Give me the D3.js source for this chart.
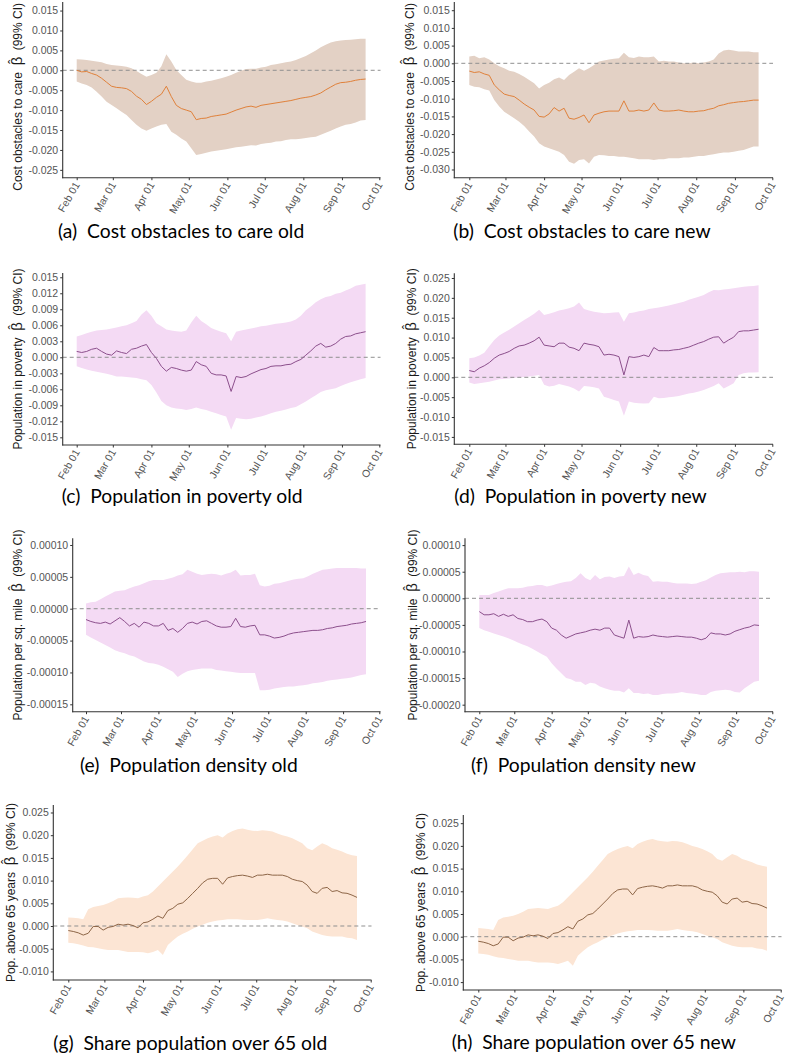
<!DOCTYPE html>
<html>
<head>
<meta charset="utf-8">
<script src="https://cdnjs.cloudflare.com/ajax/libs/d3/7.8.5/d3.min.js"></script>
<style>
  body { margin: 0; background: #fff; }
  svg { display: block; }
  text { white-space: pre; }
</style>
</head>
<body>
<div class="figure"></div>
<script>
// Page size.
var w = 787,
    h = 1054;

// Dates of the plotted estimates (every 4 days).
var dateStrings = [
  "2020-02-01","2020-02-05","2020-02-09","2020-02-13","2020-02-17","2020-02-21","2020-02-25","2020-02-29",
  "2020-03-04","2020-03-08","2020-03-12","2020-03-16","2020-03-20","2020-03-24","2020-03-28",
  "2020-04-01","2020-04-05","2020-04-09","2020-04-13","2020-04-17","2020-04-21","2020-04-25","2020-04-29",
  "2020-05-03","2020-05-07","2020-05-11","2020-05-15","2020-05-19","2020-05-23","2020-05-27","2020-05-31",
  "2020-06-04","2020-06-08","2020-06-12","2020-06-16","2020-06-20","2020-06-24","2020-06-28",
  "2020-07-02","2020-07-06","2020-07-10","2020-07-14","2020-07-18","2020-07-22","2020-07-26","2020-07-30",
  "2020-08-03","2020-08-07","2020-08-11","2020-08-15","2020-08-19","2020-08-23","2020-08-27","2020-08-31",
  "2020-09-04","2020-09-08","2020-09-12","2020-09-16","2020-09-20"
];

var monthTicks = ["2020-02-01","2020-03-01","2020-04-01","2020-05-01","2020-06-01",
                  "2020-07-01","2020-08-01","2020-09-01","2020-10-01"];

// (a) Cost obstacles to care, old.
var costOldEst = [0.0000,-0.0004,-0.0003,-0.0008,-0.0012,-0.0020,-0.0030,-0.0040,-0.0043,-0.0044,
  -0.0046,-0.0053,-0.0065,-0.0073,-0.0086,-0.0078,-0.0068,-0.0060,-0.0040,-0.0066,
  -0.0088,-0.0096,-0.0100,-0.0104,-0.0124,-0.0121,-0.0120,-0.0116,-0.0114,-0.0112,
  -0.0110,-0.0105,-0.0100,-0.0096,-0.0092,-0.0090,-0.0093,-0.0088,-0.0086,-0.0084,
  -0.0082,-0.0080,-0.0078,-0.0076,-0.0073,-0.0070,-0.0068,-0.0066,-0.0062,-0.0057,
  -0.0049,-0.0042,-0.0035,-0.0031,-0.0030,-0.0028,-0.0025,-0.0023,-0.0022];
var costOldHi = [0.0028,0.0027,0.0026,0.0024,0.0022,0.0020,0.0016,0.0013,0.0012,0.0011,
  0.0009,0.0005,-0.0002,-0.0009,-0.0016,-0.0012,-0.0006,0.0010,0.0040,0.0022,
  0.0001,-0.0012,-0.0024,-0.0028,-0.0031,-0.0031,-0.0028,-0.0026,-0.0023,-0.0020,
  -0.0016,-0.0012,-0.0006,-0.0001,0.0003,0.0004,0.0004,0.0007,0.0009,0.0013,
  0.0015,0.0018,0.0020,0.0022,0.0026,0.0031,0.0036,0.0043,0.0050,0.0058,
  0.0064,0.0070,0.0073,0.0075,0.0076,0.0077,0.0078,0.0079,0.0079];
var costOldLo = [-0.0028,-0.0033,-0.0037,-0.0043,-0.0054,-0.0066,-0.0079,-0.0087,-0.0095,-0.0104,
  -0.0112,-0.0125,-0.0137,-0.0146,-0.0152,-0.0146,-0.0141,-0.0137,-0.0135,-0.0154,
  -0.0162,-0.0171,-0.0179,-0.0196,-0.0213,-0.0210,-0.0207,-0.0204,-0.0202,-0.0200,
  -0.0198,-0.0196,-0.0193,-0.0192,-0.0190,-0.0188,-0.0189,-0.0185,-0.0183,-0.0182,
  -0.0179,-0.0178,-0.0175,-0.0173,-0.0173,-0.0172,-0.0170,-0.0168,-0.0167,-0.0162,
  -0.0157,-0.0152,-0.0146,-0.0141,-0.0137,-0.0135,-0.0131,-0.0126,-0.0125];

// (b) Cost obstacles to care, new.
var costNewEst = [-0.0022,-0.0026,-0.0024,-0.0030,-0.0034,-0.0061,-0.0075,-0.0087,-0.0091,-0.0094,
  -0.0104,-0.0115,-0.0124,-0.0132,-0.0150,-0.0152,-0.0143,-0.0125,-0.0135,-0.0127,
  -0.0155,-0.0158,-0.0153,-0.0146,-0.0168,-0.0146,-0.0141,-0.0137,-0.0135,-0.0135,
  -0.0135,-0.0106,-0.0135,-0.0135,-0.0132,-0.0135,-0.0132,-0.0112,-0.0132,-0.0135,
  -0.0135,-0.0134,-0.0132,-0.0135,-0.0137,-0.0137,-0.0135,-0.0134,-0.0130,-0.0127,
  -0.0120,-0.0117,-0.0113,-0.0111,-0.0109,-0.0108,-0.0106,-0.0104,-0.0104];
var costNewHi = [0.0019,0.0021,0.0014,0.0017,0.0011,0.0000,-0.0008,-0.0014,-0.0021,-0.0024,
  -0.0030,-0.0038,-0.0047,-0.0056,-0.0071,-0.0061,-0.0055,-0.0045,-0.0040,-0.0047,
  -0.0033,-0.0024,-0.0014,-0.0021,-0.0014,-0.0005,0.0005,0.0008,0.0011,0.0013,
  0.0014,0.0030,0.0017,0.0015,0.0019,0.0017,0.0017,0.0019,0.0005,0.0007,
  0.0005,0.0005,0.0002,0.0000,0.0000,0.0002,0.0000,0.0002,0.0005,0.0011,
  0.0028,0.0036,0.0038,0.0036,0.0033,0.0033,0.0033,0.0031,0.0031];
var costNewLo = [-0.0061,-0.0066,-0.0068,-0.0073,-0.0077,-0.0104,-0.0122,-0.0137,-0.0146,-0.0155,
  -0.0165,-0.0177,-0.0193,-0.0207,-0.0226,-0.0235,-0.0240,-0.0245,-0.0250,-0.0259,
  -0.0278,-0.0284,-0.0273,-0.0271,-0.0283,-0.0264,-0.0259,-0.0260,-0.0262,-0.0262,
  -0.0264,-0.0264,-0.0266,-0.0268,-0.0271,-0.0271,-0.0271,-0.0273,-0.0271,-0.0271,
  -0.0268,-0.0268,-0.0268,-0.0266,-0.0266,-0.0264,-0.0262,-0.0262,-0.0259,-0.0257,
  -0.0254,-0.0252,-0.0252,-0.0250,-0.0247,-0.0245,-0.0240,-0.0235,-0.0235];

// (c) Population in poverty, old.
var povOldEst = [0.0011,0.0009,0.0011,0.0015,0.0017,0.0011,0.0006,0.0004,0.0012,0.0009,
  0.0007,0.0015,0.0017,0.0021,0.0024,0.0009,-0.0002,-0.0017,-0.0026,-0.0019,
  -0.0021,-0.0024,-0.0026,-0.0024,-0.0008,-0.0014,-0.0017,-0.0030,-0.0033,-0.0033,
  -0.0035,-0.0064,-0.0036,-0.0038,-0.0036,-0.0031,-0.0027,-0.0023,-0.0021,-0.0017,
  -0.0016,-0.0016,-0.0014,-0.0013,-0.0008,-0.0004,0.0004,0.0012,0.0021,0.0026,
  0.0019,0.0021,0.0026,0.0034,0.0039,0.0040,0.0044,0.0046,0.0048];
var povOldHi = [0.0039,0.0042,0.0045,0.0048,0.0050,0.0051,0.0052,0.0054,0.0056,0.0058,
  0.0060,0.0064,0.0068,0.0080,0.0088,0.0078,0.0064,0.0058,0.0052,0.0050,
  0.0049,0.0048,0.0050,0.0065,0.0078,0.0068,0.0062,0.0055,0.0051,0.0048,
  0.0045,0.0030,0.0048,0.0050,0.0052,0.0054,0.0056,0.0058,0.0059,0.0061,
  0.0063,0.0064,0.0065,0.0067,0.0071,0.0078,0.0088,0.0095,0.0103,0.0109,
  0.0113,0.0115,0.0119,0.0121,0.0125,0.0129,0.0134,0.0136,0.0138];
var povOldLo = [-0.0017,-0.0020,-0.0023,-0.0025,-0.0027,-0.0029,-0.0031,-0.0033,-0.0036,-0.0036,
  -0.0037,-0.0038,-0.0039,-0.0041,-0.0043,-0.0052,-0.0066,-0.0082,-0.0090,-0.0094,
  -0.0096,-0.0097,-0.0099,-0.0097,-0.0094,-0.0097,-0.0099,-0.0102,-0.0105,-0.0108,
  -0.0111,-0.0136,-0.0114,-0.0115,-0.0116,-0.0115,-0.0113,-0.0111,-0.0108,-0.0105,
  -0.0102,-0.0100,-0.0098,-0.0095,-0.0093,-0.0088,-0.0083,-0.0077,-0.0071,-0.0065,
  -0.0062,-0.0060,-0.0058,-0.0054,-0.0050,-0.0047,-0.0044,-0.0041,-0.0039];

// (d) Population in poverty, new.
var povNewEst = [0.0017,0.0014,0.0023,0.0029,0.0037,0.0048,0.0056,0.0060,0.0065,0.0073,
  0.0079,0.0081,0.0086,0.0092,0.0101,0.0081,0.0079,0.0077,0.0086,0.0086,
  0.0076,0.0073,0.0067,0.0086,0.0083,0.0081,0.0077,0.0056,0.0058,0.0056,
  0.0052,0.0006,0.0052,0.0050,0.0052,0.0056,0.0052,0.0075,0.0067,0.0067,
  0.0067,0.0069,0.0070,0.0073,0.0076,0.0081,0.0086,0.0090,0.0096,0.0101,
  0.0102,0.0086,0.0094,0.0101,0.0115,0.0117,0.0117,0.0119,0.0121];
var povNewHi = [0.0048,0.0050,0.0055,0.0062,0.0078,0.0094,0.0105,0.0113,0.0120,0.0128,
  0.0136,0.0144,0.0152,0.0160,0.0170,0.0157,0.0160,0.0164,0.0168,0.0171,
  0.0174,0.0178,0.0188,0.0172,0.0168,0.0165,0.0163,0.0161,0.0162,0.0163,
  0.0164,0.0140,0.0161,0.0163,0.0166,0.0168,0.0172,0.0174,0.0176,0.0178,
  0.0181,0.0184,0.0187,0.0190,0.0195,0.0199,0.0203,0.0207,0.0214,0.0220,
  0.0219,0.0221,0.0222,0.0224,0.0226,0.0228,0.0229,0.0230,0.0232];
var povNewLo = [-0.0013,-0.0017,-0.0015,-0.0013,-0.0011,-0.0008,-0.0005,-0.0004,-0.0003,-0.0002,
  0.0000,0.0001,0.0002,0.0004,0.0006,-0.0019,-0.0023,-0.0021,-0.0017,-0.0020,
  -0.0023,-0.0028,-0.0036,-0.0022,-0.0023,-0.0025,-0.0028,-0.0049,-0.0053,-0.0057,
  -0.0061,-0.0097,-0.0061,-0.0064,-0.0065,-0.0066,-0.0065,-0.0049,-0.0053,-0.0052,
  -0.0050,-0.0049,-0.0047,-0.0044,-0.0041,-0.0039,-0.0036,-0.0032,-0.0027,-0.0022,
  -0.0015,-0.0028,-0.0022,-0.0015,0.0006,0.0010,0.0012,0.0012,0.0013];

// (e) Population density, old.
var densOldEst = [-1.7e-5,-2.0e-5,-2.2e-5,-2.3e-5,-2.1e-5,-2.4e-5,-1.9e-5,-1.4e-5,-2.0e-5,-2.7e-5,
  -2.3e-5,-2.9e-5,-2.1e-5,-2.3e-5,-2.7e-5,-2.7e-5,-2.3e-5,-3.4e-5,-3.1e-5,-3.7e-5,
  -3.1e-5,-2.3e-5,-2.1e-5,-2.4e-5,-2.0e-5,-1.9e-5,-2.3e-5,-2.7e-5,-2.9e-5,-2.9e-5,
  -2.8e-5,-1.5e-5,-2.8e-5,-2.9e-5,-2.7e-5,-2.6e-5,-4.1e-5,-4.1e-5,-4.3e-5,-4.6e-5,
  -4.5e-5,-4.3e-5,-4.0e-5,-3.8e-5,-3.7e-5,-3.6e-5,-3.5e-5,-3.4e-5,-3.4e-5,-3.3e-5,
  -3.1e-5,-3.0e-5,-2.8e-5,-2.7e-5,-2.6e-5,-2.4e-5,-2.3e-5,-2.2e-5,-2.0e-5];
var densOldHi = [0.8e-5,1.0e-5,1.1e-5,1.5e-5,1.9e-5,2.3e-5,2.7e-5,2.8e-5,2.9e-5,3.2e-5,
  3.5e-5,3.7e-5,4.0e-5,4.3e-5,4.5e-5,4.5e-5,4.5e-5,4.7e-5,4.9e-5,5.2e-5,
  5.4e-5,6.1e-5,5.8e-5,5.5e-5,5.3e-5,5.4e-5,5.5e-5,5.4e-5,5.2e-5,5.5e-5,
  5.7e-5,6.1e-5,5.2e-5,5.3e-5,5.3e-5,5.5e-5,3.7e-5,3.5e-5,3.6e-5,3.9e-5,
  4.0e-5,4.2e-5,4.4e-5,4.6e-5,4.7e-5,4.8e-5,5.1e-5,5.5e-5,5.8e-5,6.1e-5,
  6.2e-5,6.3e-5,6.4e-5,6.4e-5,6.4e-5,6.4e-5,6.4e-5,6.3e-5,6.3e-5];
var densOldLo = [-4.1e-5,-4.5e-5,-4.9e-5,-5.3e-5,-5.7e-5,-6.1e-5,-6.5e-5,-6.8e-5,-7.0e-5,-7.3e-5,
  -7.5e-5,-7.9e-5,-8.3e-5,-8.5e-5,-8.6e-5,-8.8e-5,-9.1e-5,-9.5e-5,-9.9e-5,-10.7e-5,
  -10.2e-5,-9.8e-5,-9.6e-5,-9.5e-5,-9.4e-5,-9.4e-5,-9.4e-5,-9.6e-5,-9.7e-5,-9.8e-5,
  -9.9e-5,-10.0e-5,-10.1e-5,-10.1e-5,-10.1e-5,-10.1e-5,-12.8e-5,-12.8e-5,-12.7e-5,-12.5e-5,
  -12.4e-5,-12.3e-5,-12.2e-5,-12.2e-5,-12.1e-5,-12.0e-5,-11.9e-5,-11.7e-5,-11.6e-5,-11.5e-5,
  -11.3e-5,-11.2e-5,-11.1e-5,-11.0e-5,-10.9e-5,-10.8e-5,-10.6e-5,-10.4e-5,-10.3e-5];

// (f) Population density, new.
var densNewEst = [-2.5e-5,-3.1e-5,-3.1e-5,-2.9e-5,-3.4e-5,-3.0e-5,-3.4e-5,-3.1e-5,-3.8e-5,-4.0e-5,
  -4.4e-5,-4.4e-5,-4.1e-5,-3.9e-5,-4.4e-5,-5.6e-5,-6.0e-5,-6.9e-5,-7.5e-5,-7.1e-5,
  -6.7e-5,-6.5e-5,-6.3e-5,-6.0e-5,-5.8e-5,-6.0e-5,-5.6e-5,-5.6e-5,-6.9e-5,-7.2e-5,
  -7.5e-5,-4.1e-5,-7.5e-5,-7.2e-5,-7.3e-5,-7.2e-5,-6.9e-5,-7.1e-5,-7.2e-5,-7.3e-5,
  -7.2e-5,-7.1e-5,-7.2e-5,-7.3e-5,-7.3e-5,-7.5e-5,-7.8e-5,-7.5e-5,-6.5e-5,-6.7e-5,
  -6.7e-5,-6.9e-5,-6.7e-5,-6.2e-5,-5.9e-5,-5.6e-5,-5.4e-5,-5.0e-5,-5.1e-5];
var densNewHi = [0.6e-5,0.6e-5,0.6e-5,1.0e-5,1.3e-5,1.6e-5,1.9e-5,1.9e-5,1.9e-5,2.0e-5,
  2.2e-5,2.3e-5,2.5e-5,2.5e-5,2.2e-5,2.4e-5,2.7e-5,2.9e-5,3.1e-5,3.2e-5,
  3.8e-5,4.7e-5,3.8e-5,3.4e-5,4.4e-5,3.6e-5,4.0e-5,4.1e-5,3.8e-5,4.1e-5,
  4.2e-5,6.0e-5,4.4e-5,4.8e-5,4.4e-5,4.2e-5,3.1e-5,3.2e-5,3.1e-5,3.1e-5,
  2.9e-5,2.8e-5,2.8e-5,2.8e-5,2.7e-5,2.8e-5,3.1e-5,3.4e-5,3.9e-5,4.4e-5,
  4.7e-5,4.8e-5,4.9e-5,4.9e-5,5.0e-5,4.9e-5,5.1e-5,5.1e-5,5.0e-5];
var densNewLo = [-5.6e-5,-6.0e-5,-6.3e-5,-6.6e-5,-6.9e-5,-7.2e-5,-7.5e-5,-7.9e-5,-8.3e-5,-8.7e-5,
  -9.0e-5,-9.5e-5,-10.0e-5,-10.5e-5,-11.0e-5,-12.2e-5,-13.2e-5,-14.1e-5,-15.0e-5,-15.2e-5,
  -15.7e-5,-15.7e-5,-16.3e-5,-15.9e-5,-16.0e-5,-16.6e-5,-16.9e-5,-17.2e-5,-17.4e-5,-17.4e-5,
  -17.7e-5,-16.9e-5,-17.8e-5,-17.8e-5,-18.0e-5,-17.9e-5,-18.2e-5,-18.2e-5,-18.0e-5,-17.9e-5,
  -17.9e-5,-17.8e-5,-17.6e-5,-17.8e-5,-17.9e-5,-18.0e-5,-18.2e-5,-18.2e-5,-17.6e-5,-17.4e-5,
  -17.3e-5,-17.2e-5,-17.3e-5,-17.6e-5,-17.7e-5,-16.9e-5,-16.3e-5,-15.7e-5,-15.5e-5];

// (g)/(h) Share population over 65 (both panels show the same curve).
var age65Est = [-0.0010,-0.0012,-0.0015,-0.0020,-0.0016,-0.0001,-0.0001,-0.0009,-0.0003,-0.0001,
  0.0004,0.0002,0.0004,0.0001,-0.0004,0.0007,0.0009,0.0015,0.0022,0.0017,
  0.0034,0.0039,0.0048,0.0051,0.0061,0.0072,0.0083,0.0095,0.0103,0.0105,
  0.0105,0.0092,0.0106,0.0109,0.0111,0.0112,0.0110,0.0107,0.0112,0.0112,
  0.0114,0.0112,0.0112,0.0112,0.0109,0.0103,0.0100,0.0098,0.0090,0.0076,
  0.0072,0.0083,0.0085,0.0076,0.0078,0.0073,0.0072,0.0068,0.0063];
var age65Hi = [0.0019,0.0018,0.0017,0.0015,0.0037,0.0042,0.0044,0.0046,0.0050,0.0055,
  0.0061,0.0062,0.0063,0.0062,0.0061,0.0065,0.0068,0.0076,0.0087,0.0098,
  0.0109,0.0120,0.0131,0.0143,0.0156,0.0169,0.0182,0.0188,0.0193,0.0197,
  0.0200,0.0195,0.0204,0.0209,0.0213,0.0215,0.0212,0.0210,0.0209,0.0211,
  0.0210,0.0208,0.0204,0.0200,0.0197,0.0193,0.0188,0.0182,0.0171,0.0167,
  0.0175,0.0182,0.0178,0.0171,0.0168,0.0164,0.0159,0.0156,0.0154];
var age65Lo = [-0.0037,-0.0038,-0.0040,-0.0043,-0.0046,-0.0047,-0.0049,-0.0051,-0.0053,-0.0053,
  -0.0053,-0.0055,-0.0057,-0.0057,-0.0057,-0.0058,-0.0060,-0.0057,-0.0053,-0.0064,
  -0.0042,-0.0032,-0.0023,-0.0017,-0.0012,-0.0006,-0.0001,0.0003,0.0007,0.0010,
  0.0012,0.0013,0.0015,0.0015,0.0015,0.0014,0.0013,0.0013,0.0013,0.0015,
  0.0017,0.0015,0.0013,0.0012,0.0010,0.0006,0.0002,-0.0001,-0.0005,-0.0012,
  -0.0016,-0.0020,-0.0022,-0.0023,-0.0023,-0.0023,-0.0026,-0.0027,-0.0031];

// Y tick values per panel.
var yTicksCostOld = [-0.025,-0.020,-0.015,-0.010,-0.005,0.000,0.005,0.010,0.015];
var yTicksCostNew = [-0.030,-0.025,-0.020,-0.015,-0.010,-0.005,0.000,0.005,0.010,0.015];
var yTicksPovOld = [-0.015,-0.012,-0.009,-0.006,-0.003,0.000,0.003,0.006,0.009,0.012,0.015];
var yTicksPovNew = [-0.015,-0.010,-0.005,0.000,0.005,0.010,0.015,0.020,0.025];
var yTicksDensOld = [-0.00015,-0.00010,-0.00005,0.00000,0.00005,0.00010];
var yTicksDensNew = [-0.00020,-0.00015,-0.00010,-0.00005,0.00000,0.00005,0.00010];
var yTicksAge = [-0.010,-0.005,0.000,0.005,0.010,0.015,0.020,0.025];

var parseDate = d3.timeParse("%Y-%m-%d");
var dates = dateStrings.map(parseDate);
var monthDates = monthTicks.map(parseDate);

// ggplot style hyphen minus.
var locale = d3.formatLocale({decimal: ".", thousands: ",", grouping: [3], currency: ["", ""], minus: "-"});

var orange = {band: "#e3d1c5", line: "#e0813b"},
    purple = {band: "#f4daf4", line: "#8c4f8c"},
    peach = {band: "#fce5d4", line: "#8d6547"};

var panels = [
  {tag: "(a)", caption: "Cost obstacles to care old", ylab: "Cost obstacles to care",
   est: costOldEst, hi: costOldHi, lo: costOldLo, ticks: yTicksCostOld, fmt: ".3f", col: orange,
   box: {left: 62.7, feb: 76.7, oct: 379.3, right: 380.5, top: 2, bottom: 177.7},
   yDomain: [-0.02697, 0.01715], labelX: 18, labelShift: 7, capX: 58, capY: 238},
  {tag: "(b)", caption: "Cost obstacles to care new", ylab: "Cost obstacles to care",
   est: costNewEst, hi: costNewHi, lo: costNewLo, ticks: yTicksCostNew, fmt: ".3f", col: orange,
   box: {left: 454.3, feb: 469.3, oct: 772.3, right: 773, top: 2, bottom: 177.7},
   yDomain: [-0.03232, 0.01732], labelX: 410, labelShift: 7, capX: 453.3, capY: 238},
  {tag: "(c)", caption: "Population in poverty old", ylab: "Population in poverty",
   est: povOldEst, hi: povOldHi, lo: povOldLo, ticks: yTicksPovOld, fmt: ".3f", col: purple,
   box: {left: 62.7, feb: 76.7, oct: 379.3, right: 380.5, top: 273, bottom: 445},
   yDomain: [-0.01644, 0.0158], labelX: 18, labelShift: 0, capX: 61.7, capY: 503},
  {tag: "(d)", caption: "Population in poverty new", ylab: "Population in poverty",
   est: povNewEst, hi: povNewHi, lo: povNewLo, ticks: yTicksPovNew, fmt: ".3f", col: purple,
   box: {left: 454.3, feb: 469.3, oct: 772.3, right: 773, top: 273.3, bottom: 444.3},
   yDomain: [-0.01686, 0.02618], labelX: 411.7, labelShift: 0, capX: 454.3, capY: 503},
  {tag: "(e)", caption: "Population density old", ylab: "Population per sq. mile",
   est: densOldEst, hi: densOldHi, lo: densOldLo, ticks: yTicksDensOld, fmt: ".5f", col: purple,
   box: {left: 72.7, feb: 86, oct: 379.3, right: 380.5, top: 538.3, bottom: 711.7},
   yDomain: [-0.0001616, 0.0001105], labelX: 18, labelShift: 0, capX: 80, capY: 772},
  {tag: "(f)", caption: "Population density new", ylab: "Population per sq. mile",
   est: densNewEst, hi: densNewHi, lo: densNewLo, ticks: yTicksDensNew, fmt: ".5f", col: purple,
   box: {left: 465, feb: 479.3, oct: 772.3, right: 773, top: 538.3, bottom: 711.7},
   yDomain: [-0.0002132, 0.0001128], labelX: 412.5, labelShift: 0, capX: 471, capY: 772},
  {tag: "(g)", caption: "Share population over 65 old", ylab: "Pop. above 65 years",
   est: age65Est, hi: age65Hi, lo: age65Lo, ticks: yTicksAge, fmt: ".3f", col: peach,
   box: {left: 53.3, feb: 68.3, oct: 370.7, right: 371.5, top: 805, bottom: 980},
   yDomain: [-0.01189, 0.02665], labelX: 11, labelShift: 0, capX: 53.3, capY: 1050},
  {tag: "(h)", caption: "Share population over 65 new", ylab: "Pop. above 65 years",
   est: age65Est, hi: age65Hi, lo: age65Lo, ticks: yTicksAge, fmt: ".3f", col: peach,
   box: {left: 463.3, feb: 478.3, oct: 780.7, right: 781.5, top: 815, bottom: 990},
   yDomain: [-0.01174, 0.0268], labelX: 421, labelShift: 0, capX: 451.7, capY: 1049}
];

var svg = d3.select(".figure").append("svg")
  .attr("width", w)
  .attr("height", h);

panels.forEach(drawPanel);

function drawPanel(p) {
  var b = p.box;

  var xScale = d3.scaleTime()
    .domain([monthDates[0], monthDates[monthDates.length - 1]])
    .range([b.feb, b.oct]);

  var yScale = d3.scaleLinear()
    .domain(p.yDomain)
    .range([b.bottom, b.top]);

  var rows = dates.map(function(d, i) {
    return {date: d, est: p.est[i], hi: p.hi[i], lo: p.lo[i]};
  });

  var g = svg.append("g");

  // Confidence band.
  g.append("path")
    .datum(rows)
    .attr("fill", p.col.band)
    .attr("d", d3.area()
      .x(function(d) { return xScale(d.date); })
      .y0(function(d) { return yScale(d.lo); })
      .y1(function(d) { return yScale(d.hi); }));

  // Zero reference line.
  g.append("line")
    .attr("x1", b.left)
    .attr("x2", b.right)
    .attr("y1", yScale(0))
    .attr("y2", yScale(0))
    .attr("stroke", "#8f8f8f")
    .attr("stroke-width", 1)
    .attr("stroke-dasharray", "4,3");

  // Point estimate.
  g.append("path")
    .datum(rows)
    .attr("fill", "none")
    .attr("stroke", p.col.line)
    .attr("stroke-width", 1)
    .attr("d", d3.line()
      .x(function(d) { return xScale(d.date); })
      .y(function(d) { return yScale(d.est); }));

  // Y axis.
  var yAxis = d3.axisLeft(yScale)
    .tickValues(p.ticks)
    .tickFormat(locale.format(p.fmt))
    .tickSize(2.5)
    .tickPadding(2);

  var ya = g.append("g")
    .attr("transform", "translate(" + b.left + ",0)")
    .call(yAxis);
  ya.select(".domain").remove();
  ya.selectAll("line").attr("stroke", "#333");
  ya.selectAll("text")
    .style("font-family", "'Liberation Sans', Arial, sans-serif")
    .style("font-size", "10.5px")
    .attr("fill", "#555");

  // X axis.
  var xAxis = d3.axisBottom(xScale)
    .tickValues(monthDates)
    .tickFormat(d3.timeFormat("%b %d"))
    .tickSize(2.5);

  var xa = g.append("g")
    .attr("transform", "translate(0," + b.bottom + ")")
    .call(xAxis);
  xa.select(".domain").remove();
  xa.selectAll("line").attr("stroke", "#333");
  xa.selectAll("text")
    .style("font-family", "'Liberation Sans', Arial, sans-serif")
    .style("font-size", "10.5px")
    .attr("fill", "#555")
    .attr("text-anchor", "end")
    .attr("dy", null)
    .attr("y", null)
    .attr("transform", "translate(3,7) rotate(-60)");

  // Axis lines.
  g.append("line")
    .attr("x1", b.left).attr("x2", b.left)
    .attr("y1", b.top).attr("y2", b.bottom + 0.5)
    .attr("stroke", "#333").attr("stroke-width", 1.1);
  g.append("line")
    .attr("x1", b.left - 0.5).attr("x2", b.right)
    .attr("y1", b.bottom).attr("y2", b.bottom)
    .attr("stroke", "#333").attr("stroke-width", 1.1);

  // Y axis title with a hat drawn over beta.
  var cy = (b.top + b.bottom) / 2 + p.labelShift;
  var lab = g.append("text")
    .attr("transform", "translate(" + p.labelX + "," + cy + ") rotate(-90)")
    .attr("text-anchor", "middle")
    .attr("dy", "0.35em")
    .style("font-family", "'Liberation Sans', Arial, sans-serif")
    .style("font-size", "12px")
    .attr("fill", "#1a1a1a");
  lab.append("tspan").text(p.ylab + "  ");
  lab.append("tspan").style("font-size", "15px").text("\u03B2");
  lab.append("tspan").style("font-size", "13px").attr("dx", -7.2).attr("dy", -4).text("\u02C6");
  lab.append("tspan").attr("dx", 2.6).attr("dy", 4).text("  (99% CI)");

  // Caption.
  svg.append("text")
    .attr("x", p.capX)
    .attr("y", p.capY)
    .style("font-family", "Lato, 'Open Sans', sans-serif")
    .style("font-size", "19.3px")
    .attr("fill", "#000")
    .text(p.tag + "  " + p.caption);
}
</script>
</body>
</html>
